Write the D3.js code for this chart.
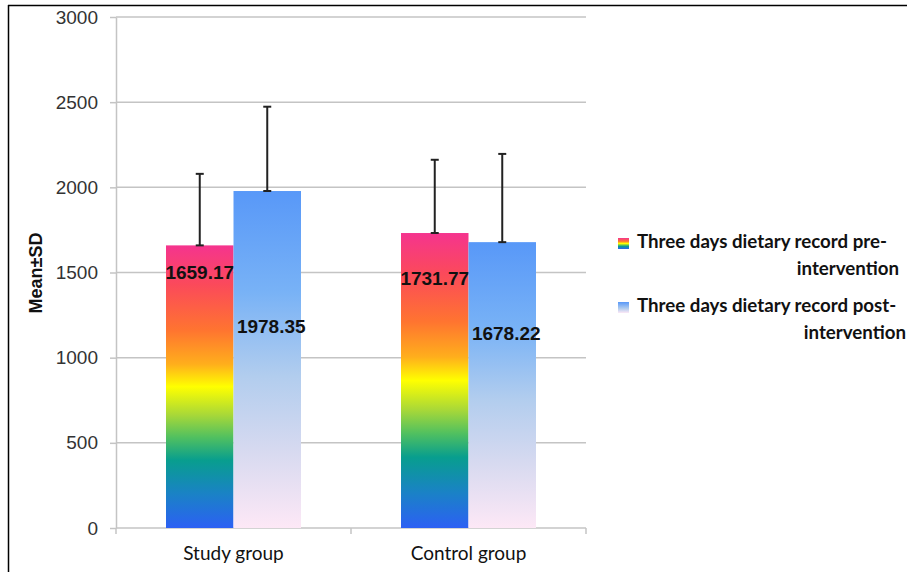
<!DOCTYPE html>
<html>
<head>
<meta charset="utf-8">
<script src="https://cdn.jsdelivr.net/npm/d3@7/dist/d3.min.js"></script>
<style>
  html, body { margin: 0; padding: 0; background: #fff; }
  svg { display: block; }
</style>
</head>
<body>
<svg id="chart" width="907" height="572"></svg>
<script>
// Energy intake (Mean ± SD) from three-day dietary records
const groups = ["Study group", "Control group"];
const seriesNames = [
  ["Three days dietary record pre-", "intervention"],
  ["Three days dietary record post-", "intervention"]
];
const preMeans = [1659.17, 1731.77];
const postMeans = [1978.35, 1678.22];
const preSD = [420, 430];
const postSD = [495, 518];
const yTicks = [0, 500, 1000, 1500, 2000, 2500, 3000];

// baseline of each value label below its bar top (px), per series then group
const labelDrop = [[34, 52], [142, 98]];

const svg = d3.select("#chart");
const W = 907, H = 572;

// frame
svg.append("line").attr("x1", 8).attr("x2", W).attr("y1", 5.5).attr("y2", 5.5)
  .attr("stroke", "#000").attr("stroke-width", 1.5);
svg.append("line").attr("x1", 8.5).attr("x2", 8.5).attr("y1", 5).attr("y2", H)
  .attr("stroke", "#000").attr("stroke-width", 1.5);

const plot = { left: 116, right: 586, top: 17, bottom: 528 };

const x0 = d3.scaleBand().domain(groups).range([plot.left, plot.right]).padding(0);
const x1 = d3.scaleBand().domain([0, 1]).range([50, x0.bandwidth() - 50]).padding(0);
const y = d3.scaleLinear().domain([0, 3000]).range([plot.bottom, plot.top]);

const defs = svg.append("defs");
function grad(id, stops) {
  const g = defs.append("linearGradient").attr("id", id)
    .attr("x1", 0).attr("y1", 0).attr("x2", 0).attr("y2", 1);
  stops.forEach(s => g.append("stop").attr("offset", s[0]).attr("stop-color", s[1]));
}
grad("gPre", [
  [0, "#f5348e"], [0.14, "#fb4a5a"], [0.3, "#ff7430"], [0.42, "#ffae1c"],
  [0.5, "#ffff00"], [0.6, "#a8d838"], [0.68, "#50c060"], [0.76, "#089e8e"],
  [0.88, "#1a82c6"], [1, "#2c60f4"]
]);
grad("gPost", [
  [0, "#5898f8"], [0.3, "#78b2f6"], [0.55, "#b2cdee"], [0.78, "#d8daf0"], [1, "#fde8f6"]
]);
grad("gPreL", [[0, "#f5348e"], [0.3, "#ff7430"], [0.5, "#ffff00"], [0.75, "#089e8e"], [1, "#2c60f4"]]);
grad("gPostL", [[0, "#5898f8"], [0.6, "#b2cdee"], [1, "#fde8f6"]]);

// gridlines
svg.append("g").selectAll("line").data(yTicks.filter(t => t > 0)).join("line")
  .attr("x1", plot.left).attr("x2", plot.right)
  .attr("y1", d => y(d)).attr("y2", d => y(d))
  .attr("stroke", "#c4c4c4").attr("stroke-width", 1.5);

// y axis
const yAxis = svg.append("g").attr("transform", `translate(${plot.left},0)`)
  .call(d3.axisLeft(y).tickValues(yTicks).tickFormat(d3.format("d"))
    .tickSize(6).tickPadding(12).tickSizeOuter(0));
yAxis.select(".domain").attr("stroke", "#c4c4c4").attr("stroke-width", 1.5);
yAxis.selectAll(".tick line").attr("stroke", "#c4c4c4").attr("stroke-width", 1.5);
yAxis.selectAll(".tick text").attr("fill", "#333")
  .style("font-family", "'Liberation Sans', Arial, sans-serif").style("font-size", "19px");

// x axis
const xAxis = svg.append("g").attr("transform", `translate(0,${plot.bottom})`)
  .call(d3.axisBottom(x0).tickSize(0).tickPadding(19));
xAxis.select(".domain").remove();
xAxis.selectAll(".tick text").attr("fill", "#111")
  .style("font-family", "Lato, 'Open Sans', sans-serif").style("font-size", "19px");
svg.append("line").attr("x1", plot.left).attr("x2", plot.right)
  .attr("y1", plot.bottom).attr("y2", plot.bottom).attr("stroke", "#c4c4c4").attr("stroke-width", 1.5);
svg.append("g").selectAll("line").data([plot.left, plot.left + x0.bandwidth(), plot.right]).join("line")
  .attr("x1", d => d).attr("x2", d => d).attr("y1", plot.bottom).attr("y2", plot.bottom + 6)
  .attr("stroke", "#c4c4c4").attr("stroke-width", 1.5);

// y title
svg.append("text").attr("transform", `translate(42,273) rotate(-90)`)
  .attr("text-anchor", "middle").attr("fill", "#111")
  .style("font-family", "'Liberation Sans', Arial, sans-serif").style("font-size", "18px").style("font-weight", "bold")
  .text("Mean±SD");

const series = [
  { means: preMeans, sd: preSD, fill: "url(#gPre)" },
  { means: postMeans, sd: postSD, fill: "url(#gPost)" }
];

series.forEach((s, si) => {
  svg.append("g").selectAll("rect").data(groups).join("rect")
    .attr("x", d => x0(d) + x1(si)).attr("width", x1.bandwidth())
    .attr("y", (d, i) => y(s.means[i])).attr("height", (d, i) => y(0) - y(s.means[i]))
    .attr("fill", s.fill);
});

// error bars (upper half)
series.forEach((s, si) => {
  groups.forEach((gname, i) => {
    const cx = x0(gname) + x1(si) + x1.bandwidth() / 2;
    const yTop = y(s.means[i] + s.sd[i]), yMean = y(s.means[i]);
    const eg = svg.append("g").attr("stroke", "#222").attr("stroke-width", 2);
    eg.append("line").attr("x1", cx).attr("x2", cx).attr("y1", yTop).attr("y2", yMean);
    eg.append("line").attr("x1", cx - 4).attr("x2", cx + 4).attr("y1", yTop).attr("y2", yTop);
    eg.append("line").attr("x1", cx - 4).attr("x2", cx + 4).attr("y1", yMean).attr("y2", yMean);
  });
});

// value labels
series.forEach((s, si) => {
  groups.forEach((gname, i) => {
    const cx = x0(gname) + x1(si) + x1.bandwidth() / 2 + (si === 1 ? 4 : 0);
    svg.append("text").attr("x", cx).attr("y", y(s.means[i]) + labelDrop[si][i])
      .attr("text-anchor", "middle").attr("fill", "#111")
      .style("font-family", "'Liberation Sans', Arial, sans-serif").style("font-size", "19px").style("font-weight", "bold")
      .text(s.means[i].toFixed(2));
  });
});

// legend
const legendY = [248, 312];
const legendFills = ["url(#gPreL)", "url(#gPostL)"];
seriesNames.forEach((lines, i) => {
  const lg = svg.append("g");
  lg.append("rect").attr("x", 618).attr("y", legendY[i] - 10).attr("width", 11).attr("height", 11)
    .attr("fill", legendFills[i]);
  lg.append("text").attr("x", 637).attr("y", legendY[i]).attr("fill", "#111")
    .style("font-family", "Lato, 'Open Sans', sans-serif").style("font-size", "18.7px").style("font-weight", "bold")
    .text(lines[0]);
  lg.append("text").attr("x", i === 0 ? 899 : 906).attr("y", legendY[i] + 27).attr("text-anchor", "end").attr("fill", "#111")
    .style("font-family", "Lato, 'Open Sans', sans-serif").style("font-size", "18.7px").style("font-weight", "bold")
    .text(lines[1]);
});
</script>
</body>
</html>
